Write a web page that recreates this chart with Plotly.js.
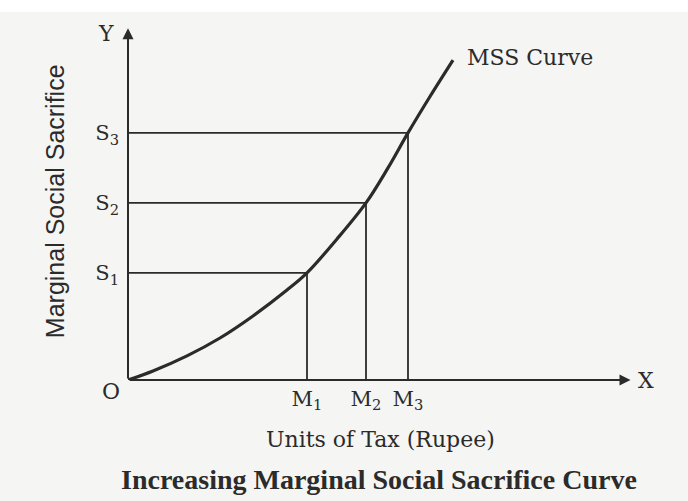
<!DOCTYPE html>
<html><head><meta charset="utf-8">
<script src="https://cdn.plot.ly/plotly-3.0.1.min.js"></script>
<style>html,body{margin:0;padding:0;background:#f5f5f3;}#chart{width:688px;height:501px;}</style>
</head><body><div id="chart"></div>
<script>
// MSS curve (units of tax vs marginal social sacrifice)
const curveX = [0, 0.5, 1.18, 1.84, 2.5, 3.18, 3.58, 4.18, 4.76, 5.2, 5.6, 6.04, 6.5];
const curveY = [0, 0.26, 0.69, 1.2, 1.83, 2.57, 3.06, 4.03, 5.06, 6.06, 7.06, 8.1, 9.14];
const mValues = [3.58, 4.76, 5.6];
const sValues = [3.06, 5.06, 7.06];
const mLabels = ['M<sub>1</sub>', 'M<sub>2</sub>', 'M<sub>3</sub>'];
const sLabels = ['S<sub>1</sub>', 'S<sub>2</sub>', 'S<sub>3</sub>'];

const ink = '#2b2b2b';
const serif = 'DejaVu Serif, serif';
const times = 'Liberation Serif, Times New Roman, serif';
const sans = 'Liberation Sans, Arial, sans-serif';

// drop lines
const hx = [], hy = [], vx = [], vy = [];
for (let i = 0; i < mValues.length; i++) {
  hx.push(0, mValues[i], null); hy.push(sValues[i], sValues[i], null);
  vx.push(mValues[i], mValues[i], null); vy.push(0, sValues[i], null);
}

const traces = [
  {x: hx, y: hy, mode: 'lines', line: {color: ink, width: 1.8}, hoverinfo: 'skip'},
  {x: vx, y: vy, mode: 'lines', line: {color: ink, width: 1.8}, hoverinfo: 'skip'},
  {x: curveX, y: curveY, mode: 'lines', line: {color: ink, width: 3.2, shape: 'spline', smoothing: 1}, hoverinfo: 'skip'}
];

const txt = (text, x, y, size, family, extra) => Object.assign({xref: 'paper', yref: 'paper', x: x, y: y, text: text, showarrow: false,
  xanchor: 'center', yanchor: 'middle', font: {size: size, family: family, color: ink}}, extra || {});

const layout = {
  width: 688, height: 501,
  margin: {l: 128, r: 60, t: 30, b: 121},
  paper_bgcolor: '#f5f5f3', plot_bgcolor: '#f5f5f3',
  showlegend: false,
  font: {family: serif, color: ink},
  xaxis: {range: [0, 10], showgrid: false, zeroline: false, showline: false,
    tickmode: 'array', tickvals: mValues, ticktext: mLabels, ticks: '',
    tickfont: {family: serif, size: 21, color: ink}, ticklabelstandoff: 4, fixedrange: true},
  yaxis: {range: [0, 10], showgrid: false, zeroline: false, showline: false,
    tickmode: 'array', tickvals: sValues, ticktext: sLabels, ticks: '',
    tickfont: {family: serif, size: 21, color: ink}, ticklabelstandoff: 8, fixedrange: true},
  shapes: [
    {type: 'rect', xref: 'paper', yref: 'paper', x0: -0.3, x1: 1.2, y0: 1.0514, y1: 1.09, fillcolor: '#ffffff', line: {width: 0}, layer: 'below'}
  ],
  annotations: [
    // axes with arrows
    {x: 10.05, y: 0, ax: 0, ay: 0, xref: 'x', yref: 'y', axref: 'x', ayref: 'y', showarrow: true, arrowhead: 2, arrowsize: 1.1, arrowwidth: 2, arrowcolor: ink, text: ''},
    {x: 0, y: 10.05, ax: 0, ay: 0, xref: 'x', yref: 'y', axref: 'x', ayref: 'y', showarrow: true, arrowhead: 2, arrowsize: 1.1, arrowwidth: 2, arrowcolor: ink, text: ''},
    txt('Y', -0.044, 0.9886, 22, serif),
    txt('X', 1.036, 0, 22, serif),
    txt('O', -0.034, -0.034, 22, serif),
    txt('MSS Curve', 0.674, 0.92, 22, serif, {xanchor: 'left'}),
    txt('Marginal Social Sacrifice', -0.146, 0.511, 25, sans, {textangle: -90}),
    txt('Units of Tax (Rupee)', 0.504, -0.171, 22, serif),
    txt('<b>Increasing Marginal Social Sacrifice Curve</b>', 0.502, -0.283, 28, times)
  ]
};

Plotly.newPlot('chart', traces, layout, {displayModeBar: false, staticPlot: true});
</script>
</body></html>
